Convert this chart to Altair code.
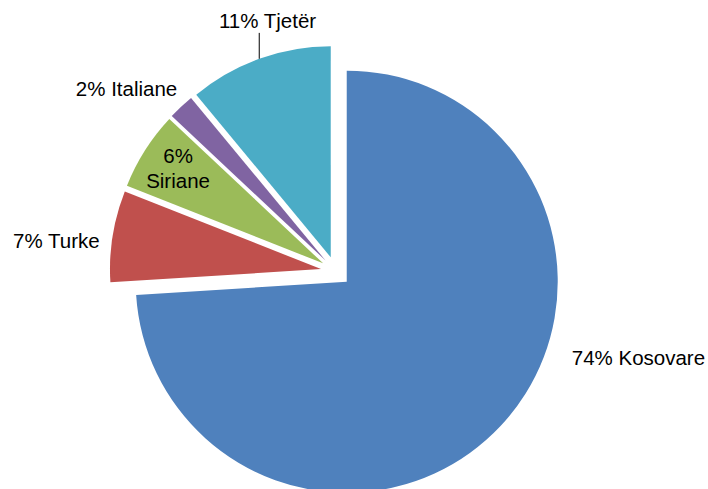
import altair as alt
import pandas as pd

# ---- data ----
categories = ["Kosovare", "Turke", "Siriane", "Italiane", "Tjetër"]
values = [74, 7, 6, 2, 11]
labels = ["74% Kosovare", "7% Turke", "6%\nSiriane", "2% Italiane", "11% Tjetër"]

# ---- styles / layout ----
colors = ["#4F81BD", "#C0504D", "#9BBB59", "#8064A2", "#4BACC6"]
W, H = 708, 489
CX, CY = 335.8, 271.4      # pie centre before explosion
R = 211                    # pie radius
EXPLODE = 15               # explosion distance for each slice
label_angle = [109, 277, 303, 319, 345]   # degrees, clockwise from north
label_dist = [238, 223, 173, 226, 244]
label_align = ["left", "right", "center", "right", "center"]
label_leader = [0, 0, 0, 0, 1]
FONT = "Liberation Sans"
FS = 20.5
LH = 25

df = pd.DataFrame({
    "order": list(range(len(categories))),
    "category": categories,
    "value": values,
    "label": labels,
    "la": label_angle,
    "ld": label_dist,
    "align": label_align,
    "leader": label_leader,
})

base = (
    alt.Chart(df)
    .transform_joinaggregate(total="sum(value)")
    .transform_window(cum="sum(value)", sort=[alt.SortField("order")], frame=[None, 0])
    .transform_calculate(t0="2*PI*(datum.cum - datum.value)/datum.total")
    .transform_calculate(t1="2*PI*datum.cum/datum.total")
    .transform_calculate(mid="(datum.t0 + datum.t1)/2")
    .transform_calculate(cx=f"{CX} + {EXPLODE}*sin(datum.mid)")
    .transform_calculate(cy=f"{CY} - {EXPLODE}*cos(datum.mid)")
    .transform_calculate(lx="datum.cx + datum.ld*sin(datum.la*PI/180)")
    .transform_calculate(ly="datum.cy - datum.ld*cos(datum.la*PI/180)")
    .transform_calculate(nl="length(split(datum.label, '\\n'))")
    .transform_calculate(lyt=f"datum.ly - (datum.nl - 1)*{LH}/2")
    .transform_calculate(ex=f"datum.cx + {R}*sin(datum.mid)")
    .transform_calculate(ey=f"datum.cy - {R}*cos(datum.mid)")
    .transform_calculate(ly2=f"datum.ly + {FS*0.55}")
)

arcs = base.mark_arc(radius=R).encode(
    x=alt.X("cx:Q", scale=None, axis=None),
    y=alt.Y("cy:Q", scale=None, axis=None),
    theta=alt.Theta("t0:Q", scale=None, stack=None),
    theta2=alt.Theta2("t1:Q"),
    color=alt.Color("category:N", scale=alt.Scale(domain=categories, range=colors), legend=None),
)

layers = [arcs]
for a in ["left", "right", "center"]:
    layers.append(
        base.transform_filter(f"datum.align == '{a}'")
        .mark_text(align=a, baseline="middle", font=FONT, fontSize=FS,
                   lineBreak="\n", lineHeight=LH, color="#000000")
        .encode(
            x=alt.X("lx:Q", scale=None, axis=None),
            y=alt.Y("lyt:Q", scale=None, axis=None),
            text="label:N",
        )
    )

leader = base.transform_filter("datum.leader == 1").mark_rule(color="#000000", strokeWidth=1).encode(
    x=alt.X("ex:Q", scale=None, axis=None),
    y=alt.Y("ey:Q", scale=None, axis=None),
    y2=alt.Y2("ly2:Q"),
)
layers.append(leader)

chart = (
    alt.layer(*layers)
    .properties(width=W, height=H, autosize="none", padding=0)
    .configure_view(stroke=None)
)

chart.save("out.html", embed_options={"renderer": "svg", "actions": False})
